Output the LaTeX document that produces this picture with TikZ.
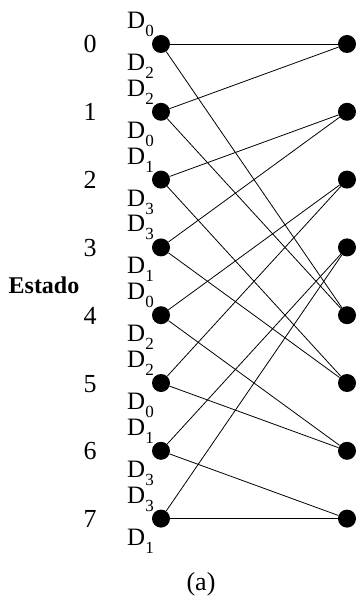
\documentclass[tikz,border=0pt]{standalone}
\usepackage{fontspec}
\setmainfont{Liberation Serif}
\newcommand{\Dsub}[1]{D\raisebox{-8pt}{\fontsize{17}{17}\selectfont #1}}

\begin{document}
\begin{tikzpicture}[x=1pt, y=-1pt,
    dot/.style={circle, fill=black, inner sep=0pt, minimum size=18pt},
    edge/.style={line width=0.8pt},
    num/.style={font=\fontsize{26}{26}\selectfont, anchor=base, inner sep=0pt},
    dlab/.style={font=\fontsize{25}{25}\selectfont, anchor=base west, inner sep=0pt}
  ]
  \useasboundingbox (0,0) rectangle (356,601);

  % Estados (izquierda y derecha)
  \foreach \i in {0,...,7} {
    \node[dot] (l\i) at (161, {44+67.8*\i}) {};
    \node[dot] (r\i) at (347, {44+67.8*\i}) {};
    \node[num] (n\i) at (90, {53+67.8*\i}) {\i};
  }

  % Etiquetas de salida
  \foreach \i/\a/\b in {0/0/2, 1/2/0, 2/1/3, 3/3/1, 4/0/2, 5/2/0, 6/1/3, 7/3/1} {
    \node[dlab] (a\i) at (127, {44+67.8*\i-15.5}) {\Dsub{\a}};
    \node[dlab] (b\i) at (127, {44+67.8*\i+26.5}) {\Dsub{\b}};
  }

  % Transiciones
  \foreach \s/\t in {0/0, 0/4, 1/0, 1/4, 2/1, 2/5, 3/1, 3/5, 4/2, 4/6, 5/2, 5/6, 6/3, 6/7, 7/3, 7/7}
    \draw[edge] (l\s) -- (r\t);

  \node[font=\fontsize{24}{24}\selectfont\bfseries] (estado) at (44,285) {Estado};
  \node[font=\fontsize{26}{26}\selectfont] (cap) at (201,584) {(a)};
\end{tikzpicture}
\end{document}
